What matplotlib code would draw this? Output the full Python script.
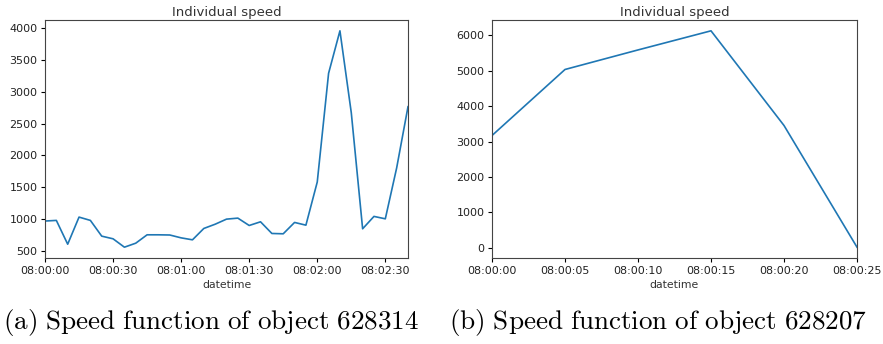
import numpy as np
import pandas as pd
import matplotlib
import matplotlib.pyplot as plt
import matplotlib.dates as mdates

matplotlib.rcParams['mathtext.fontset'] = 'cm'

# object 628314, one sample every 5 s from 08:00:00
secs_a = np.arange(0, 165, 5)
speed_a = [965, 975, 600, 1027, 975, 727, 685, 553, 616, 748, 748, 745,
           700, 669, 848, 915, 995, 1011, 895, 953, 769, 764, 943, 900,
           1580, 3294, 3963, 2672, 843, 1038, 1000, 1802, 2767]

# object 628207
secs_b = [0, 5, 10, 15, 20, 25]
speed_b = [3173, 5038, 5590, 6130, 3456, 19]

captions = [r'$\mathrm{(a)\ Speed\ function\ of\ object\ 628314}$',
            r'$\mathrm{(b)\ Speed\ function\ of\ object\ 628207}$']


def to_time(secs):
    return pd.Timestamp('2020-01-01 08:00:00') + pd.to_timedelta(secs, unit='s')


fig = plt.figure(figsize=(8.83, 3.44), dpi=100)
ax1 = fig.add_axes([45/883, 1-258/344, 363/883, 238/344])
ax2 = fig.add_axes([492/883, 1-258/344, 365/883, 238/344])

panels = [(ax1, secs_a, speed_a, [0, 30]), (ax2, secs_b, speed_b, list(range(0, 60, 5)))]
for ax, secs, vals, marks in panels:
    t = to_time(np.asarray(secs))
    ax.plot(t, vals, color='#1f77b4', lw=1.2)
    ax.set_xlim(t[0], t[-1])
    ax.xaxis.set_major_locator(mdates.SecondLocator(bysecond=marks))
    ax.xaxis.set_major_formatter(mdates.DateFormatter('%H:%M:%S'))
    ax.set_title('Individual speed', fontsize=9.5, pad=3, color='#333333')
    ax.set_xlabel('datetime', fontsize=7.8, labelpad=3, color='#333333')
    ax.tick_params(labelsize=8, length=3, pad=2.5, labelcolor='#222222')
    for s in ax.spines.values():
        s.set_color('#444444')

ax2.set_yticks([0, 1000, 2000, 3000, 4000, 5000, 6000])

fig.text(3/883, 1-322/344, captions[0], fontsize=19.5, va='center', ha='left')
fig.text(449/883, 1-322/344, captions[1], fontsize=19.5, va='center', ha='left')

fig.savefig('out.png', dpi=100)
